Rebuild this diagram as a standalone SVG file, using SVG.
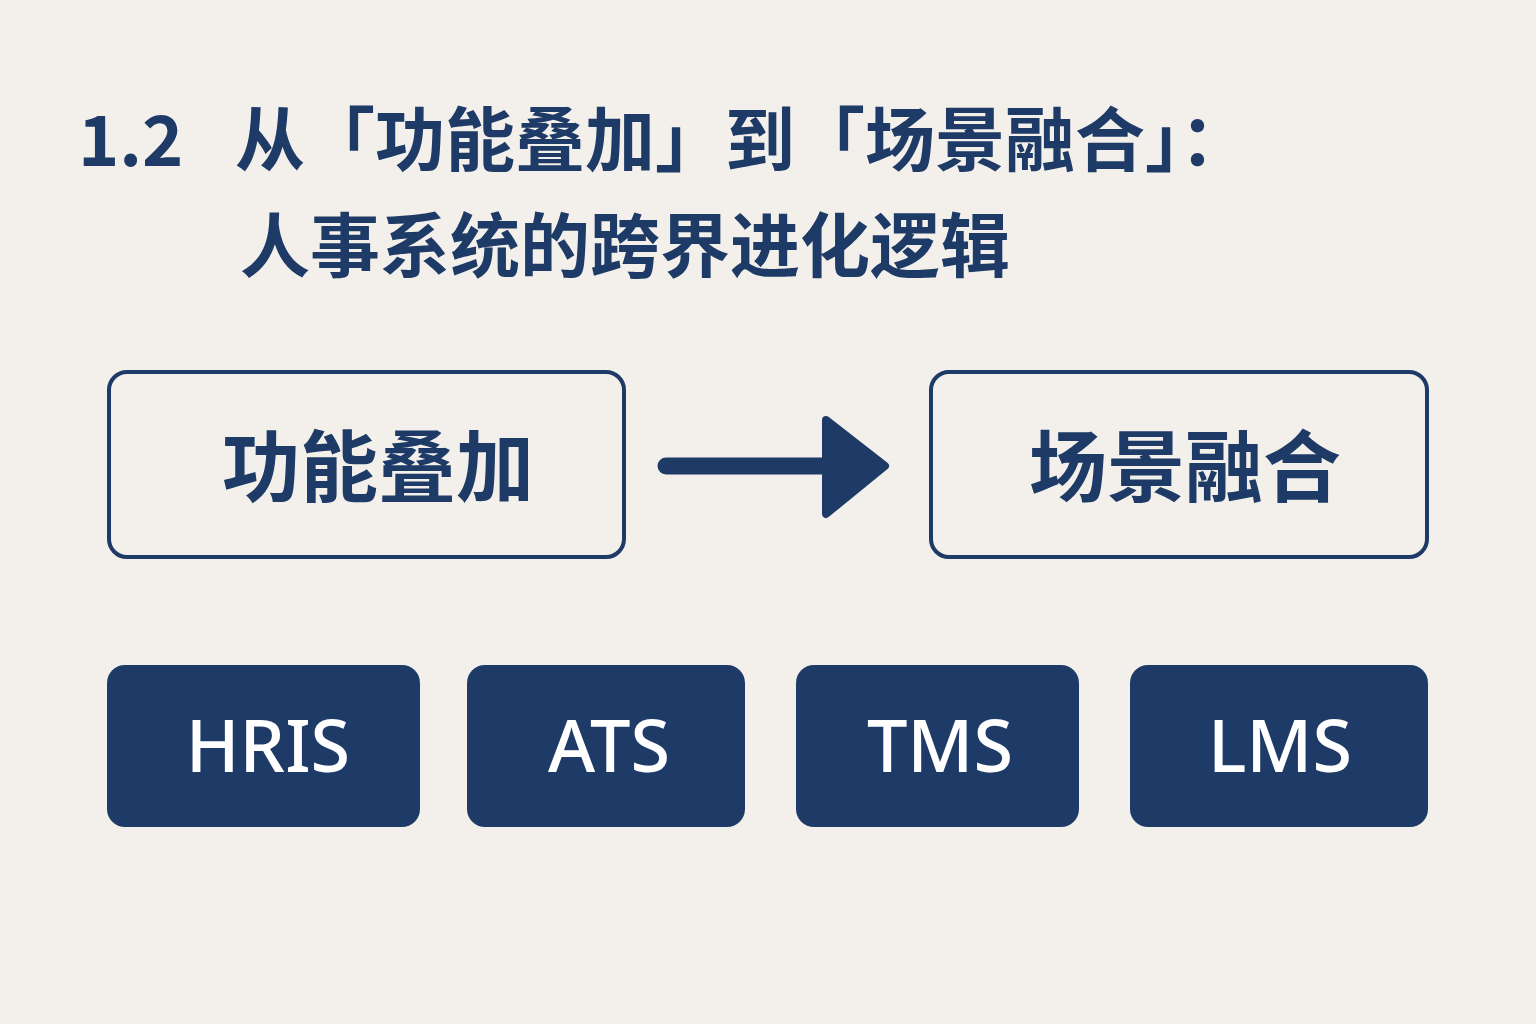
<svg xmlns="http://www.w3.org/2000/svg" width="1536" height="1024" viewBox="0 0 1536 1024">
<style>
.t{font-family:"Noto Sans CJK SC","Noto Sans",sans-serif;font-weight:700;fill:#1e3a66}
.ob{fill:none;stroke:#1e3a66;stroke-width:4}
.fb{fill:#1e3a66}
.w{font-family:"Noto Sans","Open Sans",sans-serif;font-weight:500;fill:#fff;font-size:72px;text-anchor:middle}
</style>
<rect width="1536" height="1024" fill="#f3f0eb"/>
<g id="title">
<text class="t" x="78" y="166" font-size="70" font-weight="500">1.2</text>
<text class="t" x="235" y="166" font-size="70">从「功能叠加」到「场景融合」：</text>
<text class="t" x="240" y="272" font-size="70">人事系统的跨界进化逻辑</text>
</g>
<g id="n1"><rect class="ob" x="109" y="372" width="515" height="185" rx="18"/><text class="t" x="378" y="496" font-size="78" text-anchor="middle">功能叠加</text></g>
<g id="n2"><rect class="ob" x="931" y="372" width="496" height="185" rx="18"/><text class="t" x="1185" y="496" font-size="78" text-anchor="middle">场景融合</text></g>
<g id="connectors">
<line x1="666" y1="466" x2="845" y2="466" stroke="#1e3a66" stroke-width="17" stroke-linecap="round"/>
<polygon points="826,420 885,466 826,514 826,420" fill="#1e3a66" stroke="#1e3a66" stroke-width="8" stroke-linejoin="round"/>
</g>
<g id="hris"><rect class="fb" x="107" y="665" width="313" height="162" rx="18"/><text class="w" x="268" y="772">HRIS</text></g>
<g id="ats"><rect class="fb" x="467" y="665" width="278" height="162" rx="18"/><text class="w" x="609" y="772">ATS</text></g>
<g id="tms"><rect class="fb" x="796" y="665" width="283" height="162" rx="18"/><text class="w" x="940" y="772">TMS</text></g>
<g id="lms"><rect class="fb" x="1130" y="665" width="298" height="162" rx="18"/><text class="w" x="1280" y="772">LMS</text></g>
</svg>
